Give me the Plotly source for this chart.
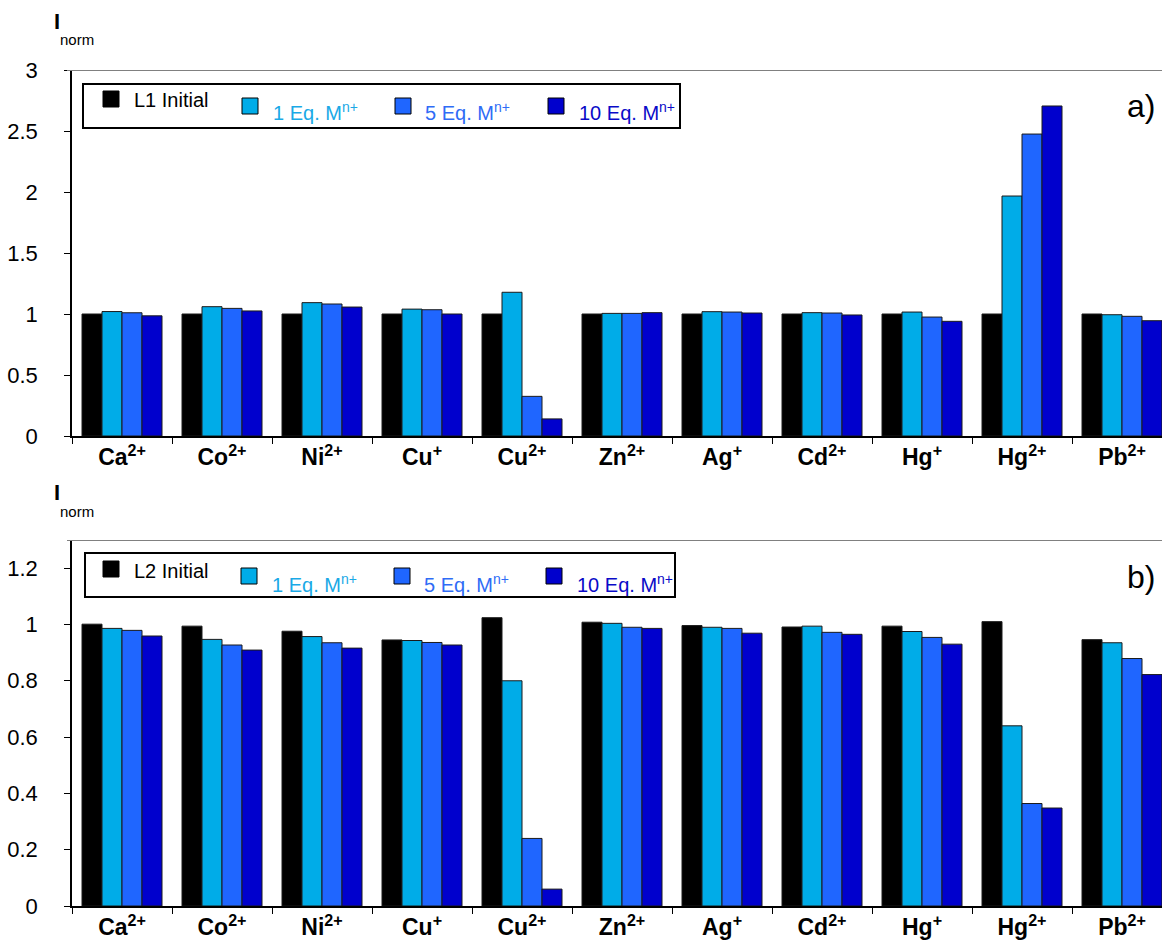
import plotly.graph_objects as go

W, H = 1162, 942

ions = ["Ca<sup>2+</sup>", "Co<sup>2+</sup>", "Ni<sup>2+</sup>", "Cu<sup>+</sup>", "Cu<sup>2+</sup>",
        "Zn<sup>2+</sup>", "Ag<sup>+</sup>", "Cd<sup>2+</sup>", "Hg<sup>+</sup>", "Hg<sup>2+</sup>",
        "Pb<sup>2+</sup>"]

# panel a) ligand L1
l1_initial = [1.0, 1.0, 1.0, 1.0, 1.0, 1.0, 1.0, 1.0, 1.0, 1.0, 1.0]
l1_eq1 = [1.02, 1.06, 1.093, 1.04, 1.178, 1.005, 1.019, 1.011, 1.016, 1.967, 0.994]
l1_eq5 = [1.01, 1.046, 1.082, 1.035, 0.325, 1.005, 1.016, 1.008, 0.975, 2.475, 0.981]
l1_eq10 = [0.985, 1.025, 1.057, 1.0, 0.14, 1.011, 1.008, 0.992, 0.94, 2.705, 0.945]

# panel b) ligand L2
l2_initial = [1.001, 0.994, 0.976, 0.945, 1.024, 1.008, 0.996, 0.991, 0.994, 1.01, 0.946]
l2_eq1 = [0.986, 0.947, 0.957, 0.943, 0.80, 1.004, 0.99, 0.994, 0.975, 0.64, 0.935]
l2_eq5 = [0.979, 0.927, 0.935, 0.936, 0.24, 0.99, 0.986, 0.972, 0.954, 0.364, 0.879]
l2_eq10 = [0.959, 0.909, 0.916, 0.927, 0.06, 0.986, 0.969, 0.965, 0.93, 0.348, 0.822]

yticks_a = [0, 0.5, 1, 1.5, 2, 2.5, 3]
yticks_b = [0, 0.2, 0.4, 0.6, 0.8, 1, 1.2]

series_names = ["Initial", "1 Eq. M<sup>n+</sup>", "5 Eq. M<sup>n+</sup>", "10 Eq. M<sup>n+</sup>"]
bar_colors = ["#000000", "#00ACE8", "#1F66FF", "#0000CD"]
text_colors = ["#000000", "#1AA9E6", "#2F6CF6", "#0A0AC8"]

FONT = "Liberation Sans, Arial, sans-serif"


def px_x(x):
    return x / W


def px_y(y):
    return 1 - y / H


fig = go.Figure()

panels = [
    dict(vals=[l1_initial, l1_eq1, l1_eq5, l1_eq10], xa="x", ya="y"),
    dict(vals=[l2_initial, l2_eq1, l2_eq5, l2_eq10], xa="x2", ya="y2"),
]
for p in panels:
    for vals, name, col in zip(p["vals"], series_names, bar_colors):
        fig.add_trace(go.Bar(
            x=ions, y=vals, name=name, marker=dict(color=col, line=dict(color="#1a1a1a", width=1)),
            xaxis=p["xa"], yaxis=p["ya"], showlegend=False,
        ))

xdom = [px_x(72), 1.0]
axis_common_x = dict(
    type="category", range=[-0.5, 10.4], tickson="boundaries", ticks="outside", ticklen=6,
    tickcolor="#000", showline=True, linecolor="#000", linewidth=1.5, showgrid=False,
    tickfont=dict(family=FONT, size=23, color="#000", weight="bold"), zeroline=False,
    ticklabelstandoff=0, fixedrange=True, automargin=False,
)
axis_common_y = dict(
    ticks="outside", ticklen=6, tickcolor="#000", showline=True, linecolor="#000", linewidth=1.5,
    showgrid=False, zeroline=False, tickfont=dict(family=FONT, size=22, color="#000"),
    ticklabelstandoff=22, fixedrange=True, automargin=False,
)

fig.update_layout(
    width=W, height=H, margin=dict(l=0, r=0, t=0, b=0, pad=0), autosize=False,
    paper_bgcolor="white", plot_bgcolor="white",
    barmode="group", bargap=0.2, bargroupgap=0,
    xaxis=dict(domain=xdom, anchor="y", **axis_common_x),
    yaxis=dict(domain=[px_y(436), px_y(70)], anchor="x", range=[0, 3], tickvals=yticks_a,
               ticktext=[f"{v:g}" for v in yticks_a], **axis_common_y),
    xaxis2=dict(domain=xdom, anchor="y2", **axis_common_x),
    yaxis2=dict(domain=[px_y(906), px_y(540)], anchor="x2", range=[0, 1.3], tickvals=yticks_b,
                ticktext=[f"{v:g}" for v in yticks_b], **axis_common_y),
    font=dict(family=FONT),
)

shapes = []
annotations = []

# top frame lines of both panels
for yref, top in (("y", 3), ("y2", 1.3)):
    shapes.append(dict(type="line", xref="paper", yref=yref, x0=px_x(67), x1=1, y0=top, y1=top,
                       line=dict(color="#808080", width=2)))

# legend boxes drawn per panel
legend_boxes = [
    dict(box=(83, 84, 680, 128), lig="L1", sq=[(103, 91), (242, 98), (395, 98), (548, 98)],
         tx=[(132, 100), (271, 112), (423, 112), (577, 112)]),
    dict(box=(85, 553, 675, 597), lig="L2", sq=[(103, 561), (241, 568), (394, 568), (546, 568)],
         tx=[(132, 571), (270, 583), (422, 583), (575, 583)]),
]
for lb in legend_boxes:
    x0, y0, x1, y1 = lb["box"]
    shapes.append(dict(type="rect", xref="paper", yref="paper", x0=px_x(x0), x1=px_x(x1),
                       y0=px_y(y1), y1=px_y(y0), line=dict(color="#000", width=2),
                       fillcolor="rgba(0,0,0,0)"))
    for i, ((sx, sy), (tx, ty)) in enumerate(zip(lb["sq"], lb["tx"])):
        shapes.append(dict(type="rect", xref="paper", yref="paper", x0=px_x(sx), x1=px_x(sx + 16),
                           y0=px_y(sy + 16), y1=px_y(sy), fillcolor=bar_colors[i],
                           line=dict(color="#000", width=1)))
        label = f"{lb['lig']} Initial" if i == 0 else series_names[i]
        annotations.append(dict(xref="paper", yref="paper", x=px_x(tx), y=px_y(ty), text=label,
                                showarrow=False, xanchor="left", yanchor="middle",
                                font=dict(family=FONT, size=20, color=text_colors[i])))

# axis titles and panel letters
for iy, ny in ((22, 40), (492, 511)):
    annotations.append(dict(xref="paper", yref="paper", x=px_x(52), y=px_y(iy), text="<b>I</b>",
                            showarrow=False, xanchor="left", yanchor="middle",
                            font=dict(family=FONT, size=22, color="#000")))
    annotations.append(dict(xref="paper", yref="paper", x=px_x(58), y=px_y(ny), text="norm",
                            showarrow=False, xanchor="left", yanchor="middle",
                            font=dict(family=FONT, size=15, color="#000")))
for txt, cy in (("a)", 106), ("b)", 577)):
    annotations.append(dict(xref="paper", yref="paper", x=px_x(1157), y=px_y(cy), text=txt,
                            showarrow=False, xanchor="right", yanchor="middle",
                            font=dict(family=FONT, size=32, color="#000")))

fig.update_layout(shapes=shapes, annotations=annotations)

fig.write_html("out.html", config={"displayModeBar": False})
